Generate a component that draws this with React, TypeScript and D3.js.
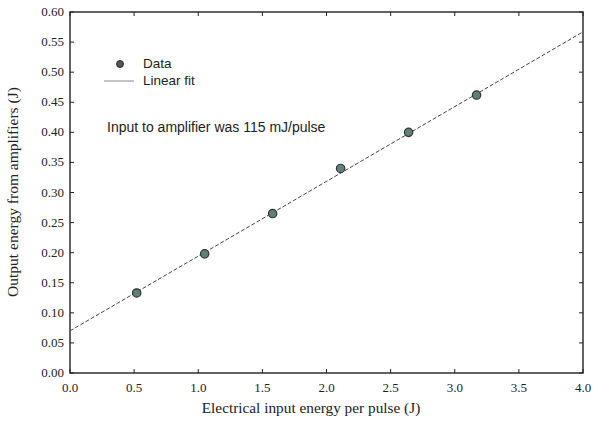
import React from "react";
import * as d3 from "d3";

const inputEnergy = [0.52, 1.05, 1.58, 2.11, 2.64, 3.17];
const outputEnergy = [0.133, 0.198, 0.265, 0.34, 0.4, 0.462];
const fitX = [0, 4.0];
const fitY = [0.07, 0.567];
const xTicks = [0, 0.5, 1, 1.5, 2, 2.5, 3, 3.5, 4];
const yTicks = [0, 0.05, 0.1, 0.15, 0.2, 0.25, 0.3, 0.35, 0.4, 0.45, 0.5, 0.55, 0.6];

const width = 593;
const height = 429;
const margin = { left: 70, right: 10, top: 12, bottom: 56 };

const App = () => {
  const x = d3.scaleLinear().domain([0, 4]).range([margin.left, width - margin.right]);
  const y = d3.scaleLinear().domain([0, 0.6]).range([height - margin.bottom, margin.top]);

  const line = d3
    .line<number>()
    .x((d) => x(d))
    .y((_, i) => y(fitY[i]));

  const serif = "'Liberation Serif', 'DejaVu Serif', serif";
  const sans = "'Liberation Sans', Arial, sans-serif";
  const x0 = x(0), x1 = x(4), y0 = y(0), y1 = y(0.6);

  return (
    <svg
      width={width}
      height={height}
      style={{ position: "absolute", left: 0, top: 0, background: "#fff" }}
    >
      <rect x={x0} y={y1} width={x1 - x0} height={y0 - y1} fill="none" stroke="#222" strokeWidth={1.4} />

      {xTicks.map((t) => (
        <g key={"x" + t}>
          <line x1={x(t)} x2={x(t)} y1={y0} y2={y0 - 4} stroke="#222" />
          <line x1={x(t)} x2={x(t)} y1={y1} y2={y1 + 4} stroke="#222" />
          <text x={x(t)} y={y0 + 19} textAnchor="middle" fontFamily={serif} fontSize={13} fill="#222">
            {t.toFixed(1)}
          </text>
        </g>
      ))}

      {yTicks.map((t) => (
        <g key={"y" + t}>
          <line x1={x0} x2={x0 + 4} y1={y(t)} y2={y(t)} stroke="#222" />
          <line x1={x1} x2={x1 - 4} y1={y(t)} y2={y(t)} stroke="#222" />
          <text x={x0 - 6} y={y(t) + 4} textAnchor="end" fontFamily={serif} fontSize={13} fill="#222">
            {t.toFixed(2)}
          </text>
        </g>
      ))}

      <path d={line(fitX) || ""} fill="none" stroke="#444" strokeWidth={1} strokeDasharray="4,2" />

      {inputEnergy.map((v, i) => (
        <circle key={i} cx={x(v)} cy={y(outputEnergy[i])} r={4.2} fill="#5f7f78" stroke="#333" strokeWidth={1.2} />
      ))}

      <circle cx={120} cy={64} r={3.5} fill="#555" stroke="#333" />
      <text x={143} y={68} fontFamily={sans} fontSize={13.5} fill="#222">Data</text>
      <line x1={104} x2={134} y1={81} y2={81} stroke="#888" />
      <text x={143} y={85} fontFamily={sans} fontSize={13.5} fill="#222">Linear fit</text>

      <text x={107} y={132} fontFamily={sans} fontSize={14} fill="#222">
        Input to amplifier was 115 mJ/pulse
      </text>

      <text x={311} y={413} textAnchor="middle" fontFamily={serif} fontSize={15.3} fill="#222">
        Electrical input energy per pulse (J)
      </text>
      <text
        transform="translate(18, 192) rotate(-90)"
        textAnchor="middle"
        fontFamily={serif}
        fontSize={15.5}
        fill="#222"
      >
        Output energy from amplifiers (J)
      </text>
    </svg>
  );
};

export default App;
